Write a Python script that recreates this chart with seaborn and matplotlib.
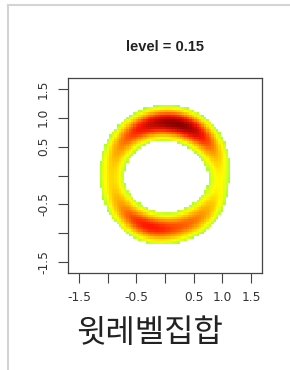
import matplotlib
matplotlib.use("Agg")
import matplotlib.pyplot as plt
import numpy as np
import seaborn as sns
from matplotlib.colors import LinearSegmentedColormap
from matplotlib.lines import Line2D

# ===========================
# DATA
# ===========================
TITLE = "level = 0.15"
CAPTION = "윗레벨집합"
LEVEL = 0.15

# kernel centres along the ring (degrees from +x, radius, weight)
ring_angles = [0, 15, 30, 45, 60, 75, 90, 105, 120, 135, 150, 165,
               180, 195, 210, 225, 240, 255, 270, 285, 300, 315, 330, 345]
ring_radii = [0.96, 0.96, 0.95, 0.94, 0.94, 0.93, 0.93, 0.93, 0.93, 0.94, 0.94, 0.94,
              0.94, 0.94, 0.94, 0.94, 0.94, 0.94, 0.93, 0.93, 0.94, 0.95, 0.96, 0.96]
ring_weights = [0.15, 0.19, 0.27, 0.36, 0.45, 0.48, 0.46, 0.41, 0.36, 0.30, 0.25, 0.20,
                0.18, 0.19, 0.23, 0.29, 0.35, 0.37, 0.34, 0.30, 0.29, 0.26, 0.20, 0.15]
bandwidth = 0.17

tick_values = [-1.5, -1.0, -0.5, 0.0, 0.5, 1.0, 1.5]
x_tick_labels = ["-1.5", "", "-0.5", "", "0.5", "1.0", "1.5"]
y_tick_labels = ["-1.5", "", "-0.5", "", "0.5", "1.0", "1.5"]

LIM = 1.69
N_GRID = 80

# ===========================
# DENSITY GRID
# ===========================
edges = np.linspace(-LIM, LIM, N_GRID + 1)
centres = (edges[:-1] + edges[1:]) / 2
gx, gy = np.meshgrid(centres, centres)

ang = np.deg2rad(ring_angles)
kx = np.array(ring_radii) * np.cos(ang)
ky = np.array(ring_radii) * np.sin(ang)

dens = np.zeros_like(gx)
for cx, cy, w in zip(kx, ky, ring_weights):
    dens += w * np.exp(-((gx - cx) ** 2 + (gy - cy) ** 2) / (2 * bandwidth ** 2))

dens[dens < LEVEL] = np.nan
dens = dens[::-1]  # top row = highest y

cmap = LinearSegmentedColormap.from_list(
    "lvl", [(0.0, "#a8ff30"), (0.06, "#d0ff20"), (0.16, "#ffff00"),
            (0.42, "#ff9a00"), (0.7, "#ff1800"), (1.0, "#8b0000")])

# ===========================
# PLOT
# ===========================
fig = plt.figure(figsize=(2.9, 3.7), dpi=100)
ax = fig.add_axes([68 / 290, 97 / 370, 194 / 290, 195 / 370])

sns.heatmap(dens, cmap=cmap, vmin=LEVEL, vmax=np.nanmax(dens), cbar=False,
            xticklabels=False, yticklabels=False, ax=ax)

xpos = [(t + LIM) / (2 * LIM) * N_GRID for t in tick_values]
ypos = [(LIM - t) / (2 * LIM) * N_GRID for t in tick_values]
ax.set_xticks(xpos)
ax.set_xticklabels(x_tick_labels)
ax.set_yticks(ypos)
ax.set_yticklabels(y_tick_labels, rotation=90, va="center")
ax.tick_params(axis="both", length=7, width=0.8, color="#444444",
               labelsize=8.8, labelcolor="#333333", direction="out")
ax.tick_params(axis="x", pad=6)
ax.tick_params(axis="y", pad=6)
for s in ax.spines.values():
    s.set_visible(True)
    s.set_color("#444444")
    s.set_linewidth(0.9)

fig.text(165 / 290, 1 - 47 / 370, TITLE, ha="center", va="center",
         fontsize=10.5, fontweight="bold", color="#222222", family="Liberation Sans")
fig.text(150 / 290, 1 - 333 / 370, CAPTION, ha="center", va="center",
         fontsize=23, color="#222222", family=["Noto Sans CJK KR", "DejaVu Sans"])

# screenshot frame
fig.add_artist(Line2D([8 / 290, 1], [1 - 5 / 370] * 2, transform=fig.transFigure,
                      color="#d4d4d4", lw=1.5))
fig.add_artist(Line2D([8 / 290] * 2, [0, 1 - 5 / 370], transform=fig.transFigure,
                      color="#d4d4d4", lw=1.5))

fig.savefig("out.png", dpi=100)
